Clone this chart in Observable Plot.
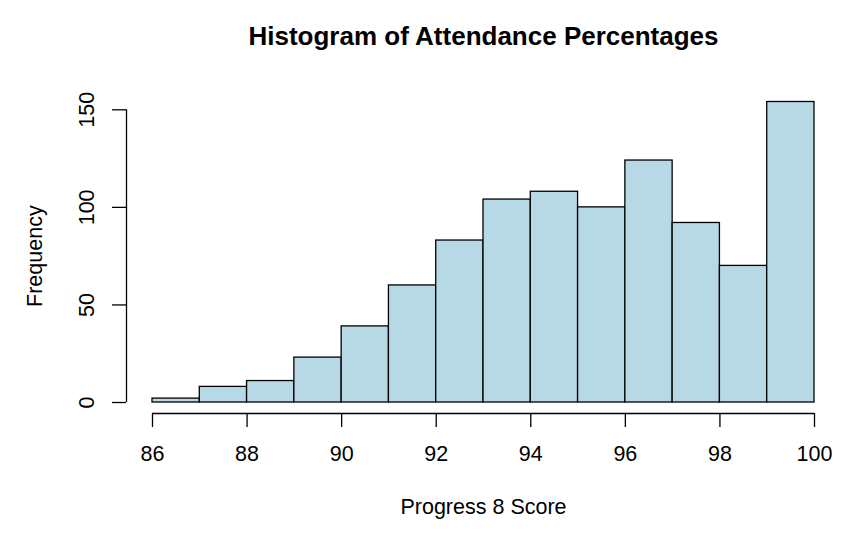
<!DOCTYPE html>
<html>
<head>
<meta charset="utf-8">
<script src="https://cdn.jsdelivr.net/npm/d3@7"></script>
<script src="https://cdn.jsdelivr.net/npm/@observablehq/plot@0.6"></script>
<style>
  html, body { margin: 0; padding: 0; background: #fff; }
  svg { display: block; }
</style>
</head>
<body>
<div id="chart"></div>
<script>
const binStarts = [86, 87, 88, 89, 90, 91, 92, 93, 94, 95, 96, 97, 98, 99];
const binWidth = 1;
const counts = [2, 8, 11, 23, 39, 60, 83, 104, 108, 100, 124, 92, 70, 154];
const xTicks = [86, 88, 90, 92, 94, 96, 98, 100];
const yTicks = [0, 50, 100, 150];
const title = "Histogram of Attendance Percentages";
const xLabel = "Progress 8 Score";
const yLabel = "Frequency";

const bins = binStarts.map((s, i) => ({x1: s, x2: s + binWidth, count: counts[i]}));

const font = "'Liberation Sans', Arial, Helvetica, sans-serif";

const chart = Plot.plot({
  width: 844,
  height: 539,
  marginTop: 109.3,
  marginBottom: 137,
  marginLeft: 152,
  marginRight: 30,
  style: {background: "#fff", fontFamily: font, color: "#000"},
  x: {domain: [86, 100], axis: null},
  y: {domain: [0, 150], axis: null},
  marks: [
    Plot.rectY(bins, {x1: "x1", x2: "x2", y: "count", fill: "#b7d8e5", stroke: "#000", strokeWidth: 1.3}),
    // x axis
    Plot.ruleY([0], {x1: xTicks[0], x2: xTicks[xTicks.length - 1], dy: 11, stroke: "#000", strokeWidth: 1.3}),
    Plot.axisX({ticks: xTicks, tickSize: 14, tickFormat: () => "", dy: 11, label: null, stroke: "#000", strokeWidth: 1.3}),
    Plot.text(xTicks, {x: d => d, text: d => String(d), frameAnchor: "bottom", lineAnchor: "middle", dy: 52, fontSize: 21.5, fill: "#000"}),
    // y axis
    Plot.ruleX([86], {y1: yTicks[0], y2: yTicks[yTicks.length - 1], dx: -26, stroke: "#000", strokeWidth: 1.3}),
    Plot.axisY({ticks: yTicks, tickSize: 14, tickFormat: () => "", dx: -26, label: null, stroke: "#000", strokeWidth: 1.3}),
    Plot.text(yTicks, {y: d => d, text: d => String(d), frameAnchor: "left", textAnchor: "middle", lineAnchor: "middle", dx: -65, rotate: -90, fontSize: 21.5, fill: "#000"}),
    // labels
    Plot.text([title], {text: d => d, frameAnchor: "top", textAnchor: "middle", lineAnchor: "middle", dy: -73, fontSize: 26, fontWeight: "bold", fill: "#000"}),
    Plot.text([xLabel], {text: d => d, frameAnchor: "bottom", textAnchor: "middle", lineAnchor: "middle", dy: 105, fontSize: 21.5, fill: "#000"}),
    Plot.text([yLabel], {text: d => d, frameAnchor: "left", textAnchor: "middle", lineAnchor: "middle", dx: -117, rotate: -90, fontSize: 21.5, fill: "#000"})
  ]
});
document.getElementById("chart").appendChild(chart);
</script>
</body>
</html>
